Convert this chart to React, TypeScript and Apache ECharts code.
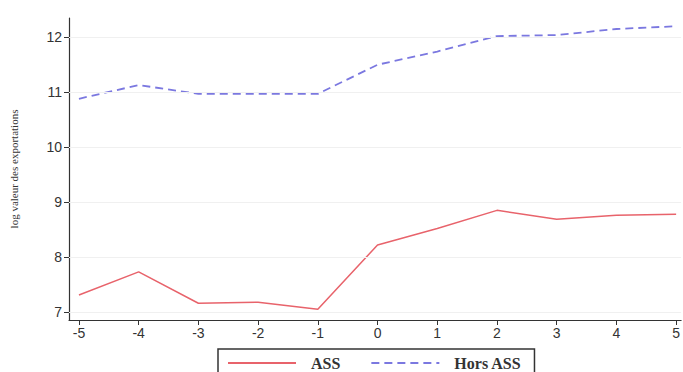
import React, { useEffect, useRef } from "react";
import * as echarts from "echarts";

const periods = [-5, -4, -3, -2, -1, 0, 1, 2, 3, 4, 5];
const assValues = [7.31, 7.73, 7.16, 7.18, 7.05, 8.22, 8.52, 8.85, 8.69, 8.76, 8.78];
const horsAssValues = [10.88, 11.13, 10.97, 10.97, 10.97, 11.5, 11.74, 12.02, 12.04, 12.15, 12.2];
const yTicks = [7, 8, 9, 10, 11, 12];
const xTicks = [-5, -4, -3, -2, -1, 0, 1, 2, 3, 4, 5];

export default function App() {
  const ref = useRef<HTMLDivElement>(null);
  useEffect(() => {
    if (!ref.current) return;
    const chart = echarts.init(ref.current, null, { renderer: "svg" });
    const labelFont = { fontFamily: "Liberation Sans, Arial, sans-serif", fontSize: 14, color: "#333" };
    chart.setOption({
      animation: false,
      backgroundColor: "#fff",
      grid: { left: 68, right: 0, top: 18, bottom: 52, containLabel: false },
      xAxis: {
        type: "value",
        min: -5.1667,
        max: 5.0833,
        axisLine: { show: true, onZero: false, lineStyle: { color: "#333", width: 1.2 } },
        axisTick: { show: true, length: 5, lineStyle: { color: "#333" }, customValues: xTicks },
        axisLabel: { ...labelFont, margin: 6, customValues: xTicks, showMinLabel: true, showMaxLabel: true },
        splitLine: { show: false },
      },
      yAxis: {
        type: "value",
        min: 6.855,
        max: 12.35,
        name: "log valeur des exportations",
        nameLocation: "middle",
        nameRotate: 90,
        nameGap: 50,
        nameTextStyle: { fontFamily: "Liberation Serif, Times New Roman, serif", fontSize: 11, color: "#333" },
        axisLine: { show: true, onZero: false, lineStyle: { color: "#333", width: 1.2 } },
        axisTick: { show: true, length: 5, lineStyle: { color: "#333" }, customValues: yTicks },
        axisLabel: { ...labelFont, margin: 7, customValues: yTicks },
        splitLine: { show: false },
      },
      legend: {
        left: 218,
        top: 349,
        padding: [6, 13, 6, 9],
        borderColor: "#333",
        borderWidth: 1.5,
        itemWidth: 68,
        itemHeight: 14,
        itemGap: 30,
        itemStyle: { opacity: 0 },
        textStyle: {
          fontFamily: "Liberation Serif, Times New Roman, serif",
          fontSize: 16,
          fontWeight: "bold",
          color: "#333",
          padding: [0, 0, 0, 10],
        },
        data: ["ASS", "Hors ASS"],
      },
      series: [
        {
          name: "ASS",
          type: "line",
          data: periods.map((p, i) => [p, assValues[i]]),
          symbol: "none",
          lineStyle: { color: "#e8636b", width: 1.5 },
          itemStyle: { color: "#e8636b" },
          markLine: {
            silent: true,
            symbol: "none",
            label: { show: false },
            lineStyle: { color: "#f0f0f0", type: "solid", width: 1 },
            data: yTicks.map((v) => ({ yAxis: v })),
          },
        },
        {
          name: "Hors ASS",
          type: "line",
          data: periods.map((p, i) => [p, horsAssValues[i]]),
          symbol: "none",
          lineStyle: { color: "#7b78e0", width: 1.8, type: [8, 5] },
          itemStyle: { color: "#7b78e0" },
        },
      ],
    });
    return () => chart.dispose();
  }, []);
  return <div ref={ref} style={{ width: 683, height: 372, position: "absolute", left: 0, top: 0 }} />;
}
